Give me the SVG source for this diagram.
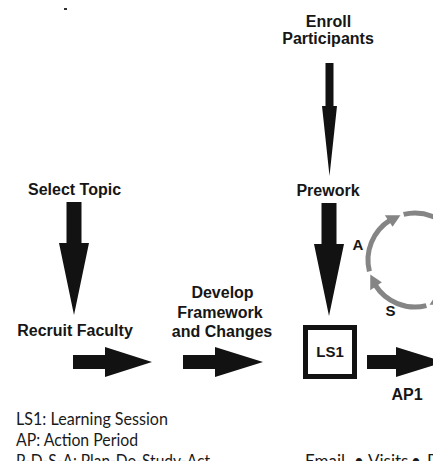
<svg xmlns="http://www.w3.org/2000/svg" xmlns:xlink="http://www.w3.org/1999/xlink" width="433" height="461" viewBox="0 0 433 461">
  <style>
    .lbl { font-family: "Liberation Sans", Arial, sans-serif; font-weight: bold; font-size: 16px; fill: #161616; text-anchor: middle; }
    .key { font-family: "Lato", "Liberation Sans", sans-serif; font-size: 17px; fill: #1a1a1a; }
    .arrow { fill: #121212; }
    .cyc { fill: none; stroke: #858585; stroke-width: 5; }
    .cychead { fill: #858585; }
  </style>
  <defs>
    <!-- one quarter of the PDSA cycle: arc plus arrowhead, centred on (0,0), r = 47 -->
    <g id="cycleSeg">
      <path class="cyc" d="M 11.37 45.60 A 47 47 0 0 1 -39.86 24.91"/>
      <polygon class="cychead" points="-44.70,14.52 -33.16,22.37 -44.77,30.20"/>
    </g>
  </defs>

  <rect width="433" height="461" fill="#ffffff"/>
  <rect x="64" y="8" width="3" height="2" fill="#333"/>

  <g id="connectors">
    <!-- thin arrow: Enroll Participants -> Prework -->
    <polygon class="arrow" points="325.5,63 333.5,63 333.5,106 337,106 329.5,176 322,106 325.5,106"/>
    <!-- Select Topic -> Recruit Faculty -->
    <polygon class="arrow" points="66.5,202 81.5,202 81.5,243 89,243 74,315 59,243 66.5,243"/>
    <!-- Prework -> LS1 -->
    <polygon class="arrow" points="321.5,203 336.5,203 336.5,244 344,244 329,316 314,244 321.5,244"/>
    <!-- Recruit Faculty -> Develop -->
    <polygon class="arrow" points="73,355 105,355 105,347 152,362 105,377 105,369 73,369"/>
    <!-- Develop -> LS1 -->
    <polygon class="arrow" points="183,355 215,355 215,347 263,362 215,377 215,369 183,369"/>
    <!-- LS1 -> AP1 -->
    <polygon class="arrow" points="367,355 396,355 396,347 444,362 396,377 396,369 367,369"/>
  </g>

  <g id="enroll">
    <text class="lbl" x="328.5" y="27">Enroll</text>
    <text class="lbl" x="328" y="44">Participants</text>
  </g>

  <g id="select-topic">
    <text class="lbl" x="74.5" y="195">Select Topic</text>
  </g>

  <g id="prework">
    <text class="lbl" x="328" y="196">Prework</text>
  </g>

  <g id="recruit-faculty">
    <text class="lbl" x="75" y="336">Recruit Faculty</text>
  </g>

  <g id="develop">
    <text class="lbl" x="222.5" y="298">Develop</text>
    <text class="lbl" x="220" y="318">Framework</text>
    <text class="lbl" x="222" y="336.5">and Changes</text>
  </g>

  <g id="ls1">
    <rect x="305.5" y="327.5" width="49" height="49" fill="#ffffff" stroke="#121212" stroke-width="5"/>
    <text class="lbl" x="330" y="357" style="font-size:15px">LS1</text>
  </g>

  <g id="ap1">
    <text class="lbl" x="407" y="400">AP1</text>
  </g>

  <g id="pdsa-cycle">
    <use xlink:href="#cycleSeg" transform="translate(415,260)"/>
    <use xlink:href="#cycleSeg" transform="translate(415,260) rotate(90)"/>
    <use xlink:href="#cycleSeg" transform="translate(415,260) rotate(180)"/>
    <use xlink:href="#cycleSeg" transform="translate(415,260) rotate(270)"/>
    <text class="lbl" x="358" y="250" style="font-size:15px">A</text>
    <text class="lbl" x="390.5" y="316" style="font-size:15px">S</text>
  </g>

  <g id="legend">
    <text class="key" x="16" y="425" textLength="152" lengthAdjust="spacingAndGlyphs">LS1: Learning Session</text>
    <text class="key" x="16" y="446" textLength="122" lengthAdjust="spacingAndGlyphs">AP: Action Period</text>
    <text class="key" x="16" y="467" textLength="194" lengthAdjust="spacingAndGlyphs">P-D-S-A: Plan-Do-Study-Act</text>
  </g>

  <g id="supports">
    <text class="key" y="467"><tspan x="305">Email</tspan><tspan x="354">•</tspan><tspan x="368">Visits</tspan><tspan x="411">•</tspan><tspan x="427">Phone</tspan></text>
  </g>
</svg>
